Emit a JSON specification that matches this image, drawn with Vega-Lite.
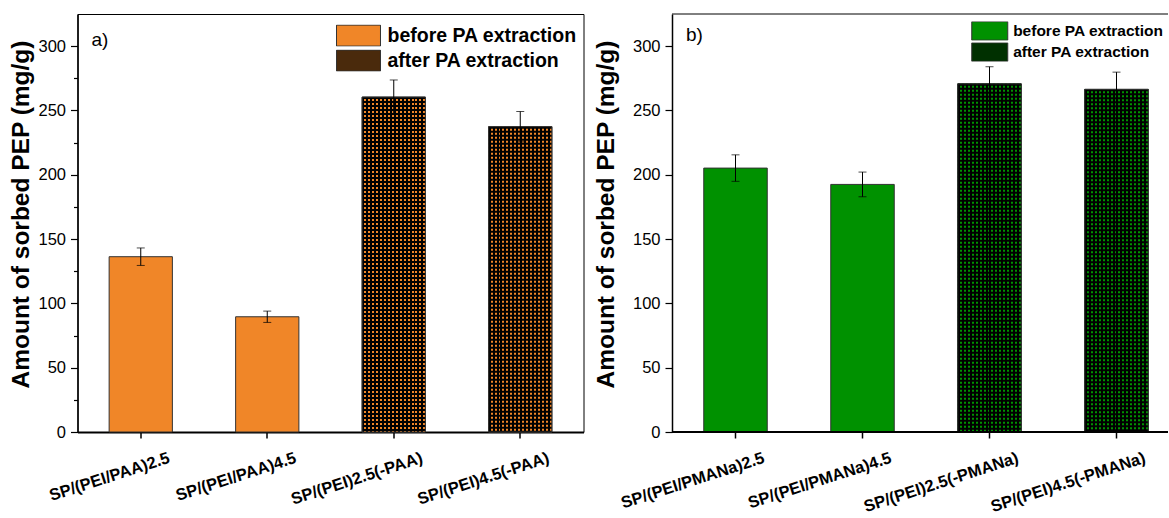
{
  "$schema": "https://vega.github.io/schema/vega-lite/v6.json",
  "background": "white",
  "padding": {"left": 7.5, "top": 13, "right": 0, "bottom": 0},
  "spacing": 8.5,
  "datasets": {
    "a": [
      {"cat": "SP/(PEI/PAA)2.5", "stage": "before PA extraction", "value": 136.3, "err": 6.8},
      {"cat": "SP/(PEI/PAA)4.5", "stage": "before PA extraction", "value": 89.6, "err": 4.4},
      {"cat": "SP/(PEI)2.5(-PAA)", "stage": "after PA extraction", "value": 260.4, "err": 13.3},
      {"cat": "SP/(PEI)4.5(-PAA)", "stage": "after PA extraction", "value": 237.4, "err": 11.8}
    ],
    "b": [
      {"cat": "SP/(PEI/PMANa)2.5", "stage": "before PA extraction", "value": 205.2, "err": 10.3},
      {"cat": "SP/(PEI/PMANa)4.5", "stage": "before PA extraction", "value": 192.5, "err": 9.6},
      {"cat": "SP/(PEI)2.5(-PMANa)", "stage": "after PA extraction", "value": 270.7, "err": 13.3},
      {"cat": "SP/(PEI)4.5(-PMANa)", "stage": "after PA extraction", "value": 266.4, "err": 13.4}
    ]
  },
  "config": {
    "font": "Liberation Sans",
    "view": {"stroke": "black", "strokeWidth": 1},
    "axis": {"grid": false, "domainColor": "black", "tickColor": "black", "labelColor": "black", "titleColor": "black", "labelFont": "Liberation Sans", "titleFont": "Liberation Sans"},
    "axisY": {"labelFontSize": 16.5, "labelPadding": 5, "titleFontSize": 24.5, "titleFontWeight": "bold", "titlePadding": 4, "titleY": 200, "domainWidth": 1.5, "tickWidth": 1.2},
    "axisX": {"labelFontSize": 16.5, "labelFontWeight": "bold", "labelAngle": -18, "labelAlign": "right", "labelBaseline": "top", "labelOffset": 26, "labelPadding": 11.5, "tickSize": 6, "tickWidth": 1.5, "domainWidth": 2, "labelOverlap": false, "labelFlush": false, "labelLimit": 300}
  },
  "resolve": {"scale": {"fill": "independent"}, "legend": {"fill": "independent"}},
  "hconcat": [
    {
      "width": 506,
      "height": 418,
      "title": {"text": "a)", "anchor": "start", "frame": "group", "offset": -36, "dx": 14, "baseline": "top", "fontSize": 19, "fontWeight": "normal", "font": "Liberation Sans", "color": "black"},
      "data": {"name": "a"},
      "encoding": {
        "x": {"field": "cat", "type": "nominal", "sort": null, "title": null,
              "scale": {"paddingInner": 0.5, "paddingOuter": 0.25}},
        "y": {"field": "value", "type": "quantitative",
              "scale": {"domain": [0, 325], "nice": false, "zero": true},
              "axis": {"title": "Amount of sorbed PEP (mg/g)", "values": [0, 25, 50, 75, 100, 125, 150, 175, 200, 225, 250, 275, 300],
                       "labelExpr": "datum.value % 50 === 0 ? datum.label : ''",
                       "tickSize": {"condition": {"test": "datum.value % 50 === 0", "value": 7}, "value": 4}}}
      },
      "layer": [
        {"mark": {"type": "bar", "stroke": "#333", "strokeWidth": 1},
         "encoding": {"fill": {"field": "stage", "type": "nominal",
            "scale": {"domain": ["before PA extraction", "after PA extraction"], "range": ["#F08628", "#4a2a0c"]},
            "legend": {"orient": "none", "legendX": 258.5, "legendY": 10.6, "title": null,
                       "symbolType": "M-2.095,-1H2.095V1H-2.095Z", "symbolSize": 441, "symbolOffset": 11.5,
                       "symbolStrokeColor": "#333", "symbolStrokeWidth": 1, "clipHeight": 22,
                       "labelFontSize": 19.5, "labelFontWeight": "bold", "labelFont": "Liberation Sans", "labelColor": "black",
                       "labelOffset": 18, "rowPadding": 3, "padding": 0, "labelLimit": 400}}}},
        {"transform": [{"filter": "datum.stage === 'after PA extraction'"}],
         "mark": {"type": "bar", "fill": "#F08628"}},
        {"transform": [{"filter": "datum.stage === 'after PA extraction'"}],
         "mark": {"type": "bar", "fill": {"gradient": "linear", "x1": 0, "y1": 0, "x2": 1, "y2": 0, "stops": [
{"offset":0,"color":"#000"},{"offset":0.03125,"color":"#000"},{"offset":0.03125,"color":"rgba(0,0,0,0)"},{"offset":0.0625,"color":"rgba(0,0,0,0)"},
{"offset":0.0625,"color":"#000"},{"offset":0.09375,"color":"#000"},{"offset":0.09375,"color":"rgba(0,0,0,0)"},{"offset":0.125,"color":"rgba(0,0,0,0)"},
{"offset":0.125,"color":"#000"},{"offset":0.15625,"color":"#000"},{"offset":0.15625,"color":"rgba(0,0,0,0)"},{"offset":0.1875,"color":"rgba(0,0,0,0)"},
{"offset":0.1875,"color":"#000"},{"offset":0.21875,"color":"#000"},{"offset":0.21875,"color":"rgba(0,0,0,0)"},{"offset":0.25,"color":"rgba(0,0,0,0)"},
{"offset":0.25,"color":"#000"},{"offset":0.28125,"color":"#000"},{"offset":0.28125,"color":"rgba(0,0,0,0)"},{"offset":0.3125,"color":"rgba(0,0,0,0)"},
{"offset":0.3125,"color":"#000"},{"offset":0.34375,"color":"#000"},{"offset":0.34375,"color":"rgba(0,0,0,0)"},{"offset":0.375,"color":"rgba(0,0,0,0)"},
{"offset":0.375,"color":"#000"},{"offset":0.40625,"color":"#000"},{"offset":0.40625,"color":"rgba(0,0,0,0)"},{"offset":0.4375,"color":"rgba(0,0,0,0)"},
{"offset":0.4375,"color":"#000"},{"offset":0.46875,"color":"#000"},{"offset":0.46875,"color":"rgba(0,0,0,0)"},{"offset":0.5,"color":"rgba(0,0,0,0)"},
{"offset":0.5,"color":"#000"},{"offset":0.53125,"color":"#000"},{"offset":0.53125,"color":"rgba(0,0,0,0)"},{"offset":0.5625,"color":"rgba(0,0,0,0)"},
{"offset":0.5625,"color":"#000"},{"offset":0.59375,"color":"#000"},{"offset":0.59375,"color":"rgba(0,0,0,0)"},{"offset":0.625,"color":"rgba(0,0,0,0)"},
{"offset":0.625,"color":"#000"},{"offset":0.65625,"color":"#000"},{"offset":0.65625,"color":"rgba(0,0,0,0)"},{"offset":0.6875,"color":"rgba(0,0,0,0)"},
{"offset":0.6875,"color":"#000"},{"offset":0.71875,"color":"#000"},{"offset":0.71875,"color":"rgba(0,0,0,0)"},{"offset":0.75,"color":"rgba(0,0,0,0)"},
{"offset":0.75,"color":"#000"},{"offset":0.78125,"color":"#000"},{"offset":0.78125,"color":"rgba(0,0,0,0)"},{"offset":0.8125,"color":"rgba(0,0,0,0)"},
{"offset":0.8125,"color":"#000"},{"offset":0.84375,"color":"#000"},{"offset":0.84375,"color":"rgba(0,0,0,0)"},{"offset":0.875,"color":"rgba(0,0,0,0)"},
{"offset":0.875,"color":"#000"},{"offset":0.90625,"color":"#000"},{"offset":0.90625,"color":"rgba(0,0,0,0)"},{"offset":0.9375,"color":"rgba(0,0,0,0)"},
{"offset":0.9375,"color":"#000"},{"offset":0.96875,"color":"#000"},{"offset":0.96875,"color":"rgba(0,0,0,0)"},{"offset":1,"color":"rgba(0,0,0,0)"}
         ]}}},
        {"transform": [{"filter": "datum.stage === 'after PA extraction'"}],
         "mark": {"type": "rule", "stroke": "black", "strokeWidth": 63.25, "strokeDash": [2, 2], "strokeCap": "butt"},
         "encoding": {"y2": {"datum": 0}}},
        {"transform": [{"filter": "datum.stage === 'after PA extraction'"}],
         "mark": {"type": "bar", "fill": "transparent", "stroke": "#333", "strokeWidth": 1}},
        {"mark": {"type": "errorbar", "ticks": {"size": 8}, "color": "black", "thickness": 1},
         "encoding": {"yError": {"field": "err"}}}
      ]
    },
    {
      "width": 496,
      "height": 418,
      "view": {"stroke": null},
      "title": {"text": "b)", "anchor": "start", "frame": "group", "offset": -31, "dx": 14, "baseline": "top", "fontSize": 19, "fontWeight": "normal", "font": "Liberation Sans", "color": "black"},
      "layer": [
        {
          "data": {"name": "b"},
          "encoding": {
            "x": {"field": "cat", "type": "nominal", "sort": null, "title": null,
                  "scale": {"paddingInner": 0.5, "paddingOuter": 0.25, "range": [0, 508]},
                  "axis": {"domain": false}},
            "y": {"field": "value", "type": "quantitative",
                  "scale": {"domain": [0, 325], "nice": false, "zero": true},
                  "axis": {"title": "Amount of sorbed PEP (mg/g)", "titlePadding": 14, "values": [0, 25, 50, 75, 100, 125, 150, 175, 200, 225, 250, 275, 300],
                           "labelExpr": "datum.value % 50 === 0 ? datum.label : ''",
                           "tickSize": {"condition": {"test": "datum.value % 50 === 0", "value": 7}, "value": 4}}}
          },
          "layer": [
            {"mark": {"type": "bar", "stroke": "#333", "strokeWidth": 1},
             "encoding": {"fill": {"field": "stage", "type": "nominal",
                "scale": {"domain": ["before PA extraction", "after PA extraction"], "range": ["#009100", "#003000"]},
                "legend": {"orient": "none", "legendX": 299, "legendY": 7.4, "title": null,
                           "symbolType": "M-1.946,-1H1.946V1H-1.946Z", "symbolSize": 342.25, "symbolOffset": 8.75,
                           "symbolStrokeColor": "#333", "symbolStrokeWidth": 1, "clipHeight": 19,
                           "labelFontSize": 15.5, "labelFontWeight": "bold", "labelFont": "Liberation Sans", "labelColor": "black",
                           "labelOffset": 13.4, "rowPadding": 2.2, "padding": 0, "labelLimit": 400}}}},
            {"transform": [{"filter": "datum.stage === 'after PA extraction'"}],
             "mark": {"type": "bar", "fill": "#009100"}},
            {"transform": [{"filter": "datum.stage === 'after PA extraction'"}],
             "mark": {"type": "bar", "fill": {"gradient": "linear", "x1": 0, "y1": 0, "x2": 1, "y2": 0, "stops": [
{"offset":0,"color":"#000"},{"offset":0.03125,"color":"#000"},{"offset":0.03125,"color":"rgba(0,0,0,0)"},{"offset":0.0625,"color":"rgba(0,0,0,0)"},
{"offset":0.0625,"color":"#000"},{"offset":0.09375,"color":"#000"},{"offset":0.09375,"color":"rgba(0,0,0,0)"},{"offset":0.125,"color":"rgba(0,0,0,0)"},
{"offset":0.125,"color":"#000"},{"offset":0.15625,"color":"#000"},{"offset":0.15625,"color":"rgba(0,0,0,0)"},{"offset":0.1875,"color":"rgba(0,0,0,0)"},
{"offset":0.1875,"color":"#000"},{"offset":0.21875,"color":"#000"},{"offset":0.21875,"color":"rgba(0,0,0,0)"},{"offset":0.25,"color":"rgba(0,0,0,0)"},
{"offset":0.25,"color":"#000"},{"offset":0.28125,"color":"#000"},{"offset":0.28125,"color":"rgba(0,0,0,0)"},{"offset":0.3125,"color":"rgba(0,0,0,0)"},
{"offset":0.3125,"color":"#000"},{"offset":0.34375,"color":"#000"},{"offset":0.34375,"color":"rgba(0,0,0,0)"},{"offset":0.375,"color":"rgba(0,0,0,0)"},
{"offset":0.375,"color":"#000"},{"offset":0.40625,"color":"#000"},{"offset":0.40625,"color":"rgba(0,0,0,0)"},{"offset":0.4375,"color":"rgba(0,0,0,0)"},
{"offset":0.4375,"color":"#000"},{"offset":0.46875,"color":"#000"},{"offset":0.46875,"color":"rgba(0,0,0,0)"},{"offset":0.5,"color":"rgba(0,0,0,0)"},
{"offset":0.5,"color":"#000"},{"offset":0.53125,"color":"#000"},{"offset":0.53125,"color":"rgba(0,0,0,0)"},{"offset":0.5625,"color":"rgba(0,0,0,0)"},
{"offset":0.5625,"color":"#000"},{"offset":0.59375,"color":"#000"},{"offset":0.59375,"color":"rgba(0,0,0,0)"},{"offset":0.625,"color":"rgba(0,0,0,0)"},
{"offset":0.625,"color":"#000"},{"offset":0.65625,"color":"#000"},{"offset":0.65625,"color":"rgba(0,0,0,0)"},{"offset":0.6875,"color":"rgba(0,0,0,0)"},
{"offset":0.6875,"color":"#000"},{"offset":0.71875,"color":"#000"},{"offset":0.71875,"color":"rgba(0,0,0,0)"},{"offset":0.75,"color":"rgba(0,0,0,0)"},
{"offset":0.75,"color":"#000"},{"offset":0.78125,"color":"#000"},{"offset":0.78125,"color":"rgba(0,0,0,0)"},{"offset":0.8125,"color":"rgba(0,0,0,0)"},
{"offset":0.8125,"color":"#000"},{"offset":0.84375,"color":"#000"},{"offset":0.84375,"color":"rgba(0,0,0,0)"},{"offset":0.875,"color":"rgba(0,0,0,0)"},
{"offset":0.875,"color":"#000"},{"offset":0.90625,"color":"#000"},{"offset":0.90625,"color":"rgba(0,0,0,0)"},{"offset":0.9375,"color":"rgba(0,0,0,0)"},
{"offset":0.9375,"color":"#000"},{"offset":0.96875,"color":"#000"},{"offset":0.96875,"color":"rgba(0,0,0,0)"},{"offset":1,"color":"rgba(0,0,0,0)"}
             ]}}},
            {"transform": [{"filter": "datum.stage === 'after PA extraction'"}],
             "mark": {"type": "rule", "stroke": "black", "strokeWidth": 63.5, "strokeDash": [2, 2], "strokeCap": "butt"},
             "encoding": {"y2": {"datum": 0}}},
            {"transform": [{"filter": "datum.stage === 'after PA extraction'"}],
             "mark": {"type": "bar", "fill": "transparent", "stroke": "#333", "strokeWidth": 1}},
            {"mark": {"type": "errorbar", "ticks": {"size": 8}, "color": "black", "thickness": 1},
             "encoding": {"yError": {"field": "err"}}}
          ]
        },
        {"data": {"values": [{}]}, "mark": {"type": "rule", "stroke": "black", "strokeWidth": 1}, "encoding": {"y": {"datum": 325}}},
        {"data": {"values": [{}]}, "mark": {"type": "rule", "stroke": "black", "strokeWidth": 2}, "encoding": {"y": {"datum": 0}}}
      ]
    }
  ]
}
